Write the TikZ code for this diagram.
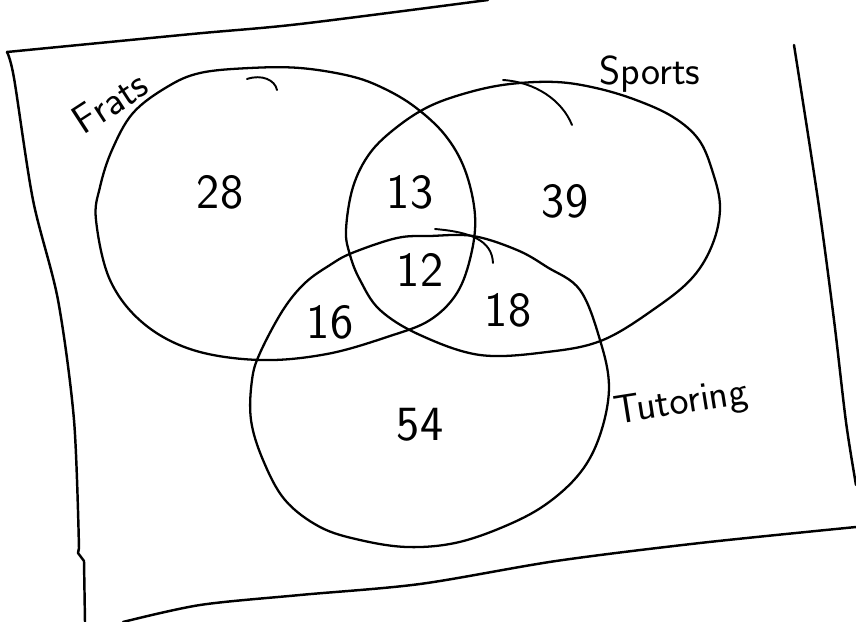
\documentclass[tikz,border=0pt]{standalone}
\usepackage{tikz}

\begin{document}
\begin{tikzpicture}[
  x=0.02cm, y=-0.02cm,
  every node/.style={inner sep=0pt},
  frame/.style={draw=black, line width=1.4pt, line join=round, line cap=round},
  set/.style={draw=black, line width=1.3pt},
  tail/.style={draw=black, line width=1.1pt, line cap=round},
  count/.style={font=\sffamily\fontsize{28}{30}\selectfont},
  setname/.style={font=\sffamily\fontsize{23}{25}\selectfont},
]
\useasboundingbox (0,0) rectangle (856,622);

% Paper outline
\draw[frame] plot[smooth, tension=0.5] coordinates {(488,0) (300,24) (192,34) (7,52)};
\draw[frame] plot[smooth, tension=0.5] coordinates {(7,52) (14,78) (33,200) (58,300) (74,420) (79,548)}
  -- (78,553) -- (84,561) -- (85,622);
\draw[frame] plot[smooth, tension=0.5] coordinates {(123,622) (200,605) (300,595) (420,584) (556,561) (700,543) (856,527)};
\draw[frame] plot[smooth, tension=0.5] coordinates {(794,45) (818,200) (834,320) (846,422) (856,485)};

% Frats
\draw[set] plot[smooth cycle, tension=0.6] coordinates {
  (96,220) (100,187) (112,150) (133,113) (167,87) (200,73) (250,68) (300,68)
  (350,76) (383,88) (415,107) (445,135) (465,170) (475,215) (471,255)
  (457,293) (430,320) (390,336) (327,354) (260,360) (193,350) (143,323) (110,280)};
\draw[tail] (247,79) .. controls (262,74) and (275,80) .. (277,90);

% Sports
\draw[set] plot[smooth cycle, tension=0.6] coordinates {
  (346,230) (353,187) (370,153) (397,127) (430,106) (470,92) (510,84) (556,82)
  (596,88) (636,100) (673,117) (699,140) (713,173) (720,207) (713,243)
  (693,277) (657,307) (603,340) (547,352) (480,355) (420,335) (380,310)
  (360,280) (350,255)};
\draw[tail] (503,80) .. controls (535,82) and (562,100) .. (572,125);

% Tutoring
\draw[set] plot[smooth cycle, tension=0.6] coordinates {
  (430,236) (473,236) (517,250) (547,267) (580,290) (600,340) (609,387)
  (600,435) (580,473) (545,505) (503,527) (455,543) (407,547) (360,540)
  (320,527) (285,500) (263,460) (251,420) (252,380) (260,353) (283,310)
  (305,283) (330,265) (352,253) (397,238)};
\draw[tail] (435,229) .. controls (470,232) and (492,240) .. (493,263);

% Set names
\node[setname, rotate=33] (frats) at (110,102) {Frats};
\node[setname] (sports) at (650,74) {Sports};
\node[setname, rotate=9] (tutoring) at (681,404) {Tutoring};

% Counts
\node[count] (onlyF) at (220,192) {28};
\node[count] (FS) at (410,192) {13};
\node[count] (onlyS) at (565,201) {39};
\node[count] (FST) at (420,270) {12};
\node[count] (FT) at (330,322) {16};
\node[count] (ST) at (508,310) {18};
\node[count] (onlyT) at (420,425) {54};
\end{tikzpicture}
\end{document}
